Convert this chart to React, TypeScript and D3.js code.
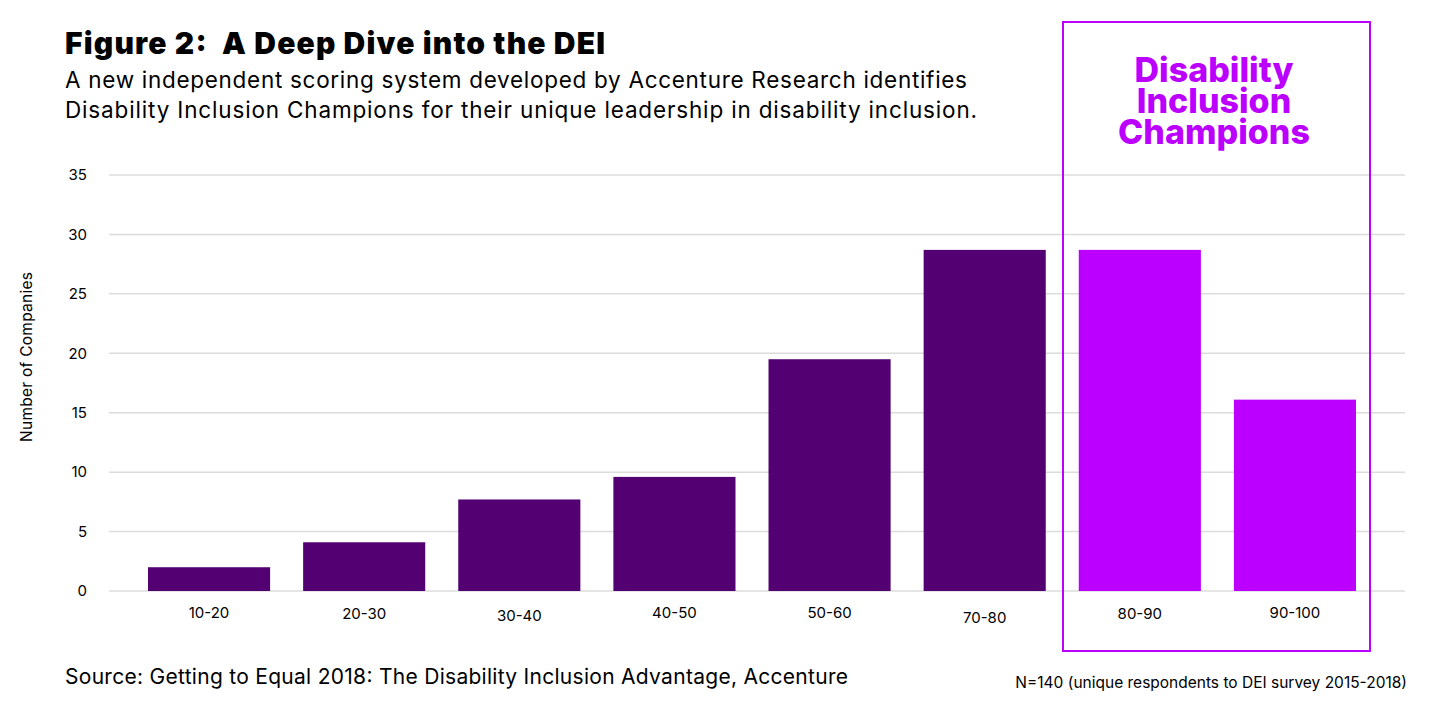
import React from "react";
import * as d3 from "d3";

const categories = ["10-20", "20-30", "30-40", "40-50", "50-60", "70-80", "80-90", "90-100"];
const values = [2.0, 4.1, 7.7, 9.6, 19.5, 28.7, 28.7, 16.1];
const champion = [false, false, false, false, false, false, true, true];
const yTicks = [0, 5, 10, 15, 20, 25, 30, 35];
const labelOffsets = [0, 1, 3, 0, 0, 5, 1, 0];

const W = 1432;
const H = 722;
const DARK = "#520072";
const BRIGHT = "#BC00FF";
const FONT = "Inter, 'Open Sans', sans-serif";

export default function App() {
  const x = d3
    .scaleBand<string>()
    .domain(categories)
    .range([148, 1356])
    .paddingInner(33 / 155)
    .paddingOuter(0);
  const y = d3.scaleLinear().domain([0, 35]).range([591, 175]);

  return (
    <svg
      width={W}
      height={H}
      style={{ position: "absolute", left: 0, top: 0, background: "#fff" }}
      fontFamily={FONT}
    >
      <rect width={W} height={H} fill="#fff" />
      {/* title */}
      <text
        x={65}
        y={54}
        fontSize={30}
        fontWeight={900}
        fill="#000"
        style={{ whiteSpace: "pre" }}
        textLength={540}
        lengthAdjust="spacing"
      >
        {"Figure 2:  A Deep Dive into the DEI"}
      </text>
      <text x={65} y={88} fontSize={22.5} fill="#000" textLength={902} lengthAdjust="spacing">
        A new independent scoring system developed by Accenture Research identifies
      </text>
      <text x={65} y={118} fontSize={22.5} fill="#000" textLength={912} lengthAdjust="spacing">
        Disability Inclusion Champions for their unique leadership in disability inclusion.
      </text>

      {/* gridlines */}
      {yTicks.map((t) => (
        <g key={t}>
          <line x1={109} x2={1405} y1={y(t)} y2={y(t)} stroke="#dcdcdc" strokeWidth={1.5} />
          <text x={87} y={y(t)} dy="0.35em" textAnchor="end" fontSize={15} fill="#000">
            {t}
          </text>
        </g>
      ))}

      <text
        transform={`translate(32,357) rotate(-90)`}
        textAnchor="middle"
        fontSize={15.5}
        fill="#000"
        textLength={170}
        lengthAdjust="spacing"
      >
        Number of Companies
      </text>

      {/* bars */}
      {categories.map((c, i) => (
        <rect
          key={c}
          x={x(c)}
          y={y(values[i])}
          width={x.bandwidth()}
          height={y(0) - y(values[i])}
          fill={champion[i] ? BRIGHT : DARK}
        />
      ))}

      {categories.map((c, i) => (
        <text
          key={c}
          x={(x(c) as number) + x.bandwidth() / 2}
          y={618 + labelOffsets[i]}
          textAnchor="middle"
          fontSize={15}
          fill="#000"
        >
          {c}
        </text>
      ))}

      {/* champion box */}
      <rect x={1063} y={22} width={307} height={629} fill="none" stroke={BRIGHT} strokeWidth={2} />
      {["Disability", "Inclusion", "Champions"].map((t, i) => (
        <text
          key={t}
          x={1214}
          y={82 + i * 31}
          textAnchor="middle"
          fontSize={34}
          fontWeight={800}
          fill={BRIGHT}
          letterSpacing={0}
        >
          {t}
        </text>
      ))}

      <text x={65} y={684} fontSize={21} fill="#000" textLength={783} lengthAdjust="spacing">
        Source: Getting to Equal 2018: The Disability Inclusion Advantage, Accenture
      </text>
      <text x={1407} y={688} textAnchor="end" fontSize={15.5} fill="#000">
        N=140 (unique respondents to DEI survey 2015-2018)
      </text>
    </svg>
  );
}
